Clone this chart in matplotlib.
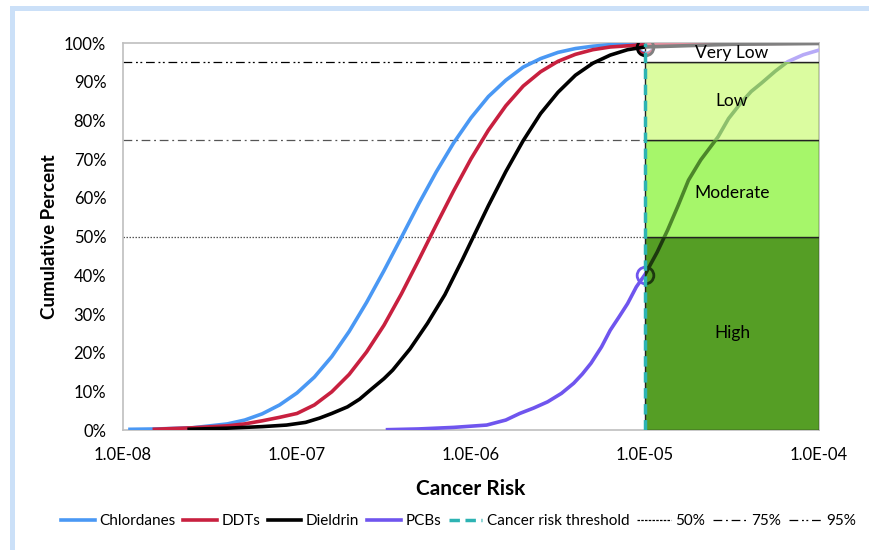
import matplotlib
matplotlib.use("Agg")
import matplotlib.pyplot as plt
import numpy as np
from matplotlib.lines import Line2D
from matplotlib.patches import Rectangle
from matplotlib.ticker import PercentFormatter, FixedLocator, FixedFormatter

plt.rcParams["font.family"] = ["Lato", "DejaVu Sans"]

# cumulative curves, risk given as log10(risk), value as fraction
chlordanes_log = [-7.97, -7.8, -7.6, -7.4, -7.3, -7.2, -7.1, -7.0, -6.9, -6.8, -6.7, -6.6,
                  -6.5, -6.4, -6.3, -6.2, -6.1, -6.0, -5.9, -5.8, -5.7, -5.6, -5.5, -5.4,
                  -5.3, -5.2, -5.0, -4.5, -4.0]
chlordanes_pct = [0.002, 0.003, 0.006, 0.016, 0.026, 0.042, 0.065, 0.096, 0.137, 0.190,
                  0.255, 0.330, 0.412, 0.498, 0.585, 0.667, 0.742, 0.807, 0.862, 0.904,
                  0.938, 0.960, 0.976, 0.986, 0.992, 0.996, 0.999, 1.0, 1.0]

ddts_log = [-7.83, -7.6, -7.4, -7.3, -7.2, -7.1, -7.0, -6.9, -6.8, -6.7, -6.6, -6.5,
            -6.4, -6.3, -6.2, -6.1, -6.0, -5.9, -5.8, -5.7, -5.6, -5.5, -5.4, -5.3,
            -5.2, -5.0, -4.5, -4.0]
ddts_pct = [0.002, 0.006, 0.011, 0.016, 0.024, 0.033, 0.043, 0.065, 0.099, 0.144,
            0.202, 0.271, 0.352, 0.440, 0.530, 0.618, 0.701, 0.775, 0.838, 0.889,
            0.926, 0.953, 0.971, 0.983, 0.990, 0.996, 0.999, 1.0]

dieldrin_log = [-7.63, -7.4, -7.2, -7.06, -6.95, -6.87, -6.8, -6.71, -6.64, -6.58, -6.5,
                -6.45, -6.35, -6.25, -6.15, -6.05, -5.986, -5.9, -5.8, -5.7, -5.6, -5.5,
                -5.4, -5.3, -5.2, -5.1, -5.0, -4.5, -4.0]
dieldrin_pct = [0.002, 0.005, 0.009, 0.013, 0.020, 0.031, 0.043, 0.060, 0.080, 0.103,
                0.133, 0.155, 0.210, 0.276, 0.350, 0.440, 0.500, 0.580, 0.668, 0.748,
                0.818, 0.873, 0.917, 0.948, 0.969, 0.983, 0.990, 0.997, 0.999]

pcbs_log = [-6.49, -6.3, -6.1, -5.91, -5.8, -5.72, -5.64, -5.56, -5.48, -5.41, -5.36,
            -5.31, -5.25, -5.20, -5.15, -5.10, -5.05, -5.0, -4.93, -4.87, -4.81, -4.75,
            -4.68, -4.58, -4.52, -4.45, -4.39, -4.33, -4.25, -4.18, -4.09, -4.0]
pcbs_pct = [0.001, 0.003, 0.007, 0.013, 0.026, 0.043, 0.057, 0.073, 0.095, 0.121, 0.145,
            0.173, 0.215, 0.258, 0.292, 0.327, 0.370, 0.402, 0.460, 0.517, 0.580, 0.646,
            0.698, 0.758, 0.805, 0.845, 0.875, 0.897, 0.928, 0.952, 0.970, 0.982]

series_names = ["Chlordanes", "DDTs", "Dieldrin", "PCBs"]
series_colors = ["#4A98F4", "#C8203F", "#000000", "#6F55EE"]
series_logs = [chlordanes_log, ddts_log, dieldrin_log, pcbs_log]
series_pcts = [chlordanes_pct, ddts_pct, dieldrin_pct, pcbs_pct]

threshold = 1e-5
zone_names = ["High", "Moderate", "Low", "Very Low"]
zone_lo = [0.0, 0.50, 0.75, 0.95]
zone_hi = [0.50, 0.75, 0.95, 1.0]
zone_label_y = [0.25, 0.612, 0.85, 0.974]
zone_colors = ["#559E25", "#A6F66A", "#DBFCA0", "#FFFFFF"]
zone_line_tint = ["#1D380F", "#4C862A", "#8DBF6D", None]

ref_levels = [0.50, 0.75, 0.95]
ref_labels = ["50%", "75%", "95%"]
ref_styles = [(0, (1.2, 1.2)), (0, (7, 3, 1.5, 3)), (0, (7, 3, 1.5, 2, 1.5, 3))]
ref_colors = ["#555555", "#555555", "#000000"]

xticks = [1e-8, 1e-7, 1e-6, 1e-5, 1e-4]
xtick_labels = ["1.0E-08", "1.0E-07", "1.0E-06", "1.0E-05", "1.0E-04"]


def lighten(color, amount):
    c = np.array(matplotlib.colors.to_rgb(color))
    return tuple(c + (1 - c) * amount)


fig = plt.figure(figsize=(8.69, 5.5), dpi=100)
ax = fig.add_axes([0.1415, 0.218, 0.801, 0.7036])

# light blue frame on left/top of the picture
fig.patches.append(Rectangle((10 / 869, 0), 5 / 869, 1 - 6 / 550, transform=fig.transFigure,
                             facecolor="#CBE0F8", edgecolor="none"))
fig.patches.append(Rectangle((10 / 869, 1 - 11 / 550), 1, 5 / 550, transform=fig.transFigure,
                             facecolor="#CBE0F8", edgecolor="none"))

curves = []
for name, color, lg, pc in zip(series_names, series_colors, series_logs, series_pcts):
    x = 10 ** np.array(lg)
    ax.plot(x, pc, color=color, lw=2.6, zorder=3, solid_capstyle="butt")
    at = np.interp(np.log10(threshold), lg, pc)
    ax.plot([threshold], [at], "o", mfc="none", mec=color, ms=12, mew=2, zorder=3)
    curves.append((x, np.array(pc), color, at))

# zones, with the curves seen through them
for name, lo, hi, ly, fc, tint in zip(zone_names, zone_lo, zone_hi, zone_label_y,
                                      zone_colors, zone_line_tint):
    rect = Rectangle((threshold, lo), 1e-4 - threshold, hi - lo, facecolor=fc,
                     edgecolor="#222222", lw=1.0, zorder=4)
    ax.add_patch(rect)
    clip = Rectangle((threshold, lo), 1e-4 - threshold, hi - lo, transform=ax.transData)
    for x, pc, color, at in curves:
        c = tint if tint else lighten(color, 0.5)
        ln, = ax.plot(x, pc, color=c, lw=2.6, zorder=5)
        ln.set_clip_path(clip)
        mk, = ax.plot([threshold], [at], "o", mfc="none", mec=c, ms=12, mew=2, zorder=5)
        mk.set_clip_path(clip)
    ax.text(np.sqrt(threshold * 1e-4), ly, name, ha="center", va="center",
            fontsize=12.5, color="black", zorder=6)

for lvl, st, col in zip(ref_levels, ref_styles, ref_colors):
    ax.plot([1e-8, threshold], [lvl, lvl], color=col, lw=0.9, linestyle=st, zorder=2)

ax.axvline(threshold, color="#2DB3B3", lw=2.5, linestyle=(0, (3, 1.6)), zorder=7)

ax.set_xscale("log")
ax.set_xlim(1e-8, 1e-4)
ax.set_ylim(0, 1)
ax.xaxis.set_major_locator(FixedLocator(xticks))
ax.xaxis.set_major_formatter(FixedFormatter(xtick_labels))
ax.xaxis.set_minor_locator(FixedLocator([]))
ax.set_yticks(np.arange(0, 1.01, 0.1))
ax.yaxis.set_major_formatter(PercentFormatter(1.0, decimals=0))
ax.tick_params(length=0, labelsize=12, pad=12)
ax.tick_params(axis="x", pad=12)
for s in ax.spines.values():
    s.set_color("#BFBFBF")
    s.set_linewidth(1.2)

ax.set_xlabel("Cancer Risk", fontsize=15, fontweight="bold", labelpad=12)
ax.set_ylabel("Cumulative Percent", fontsize=13.5, fontweight="bold", labelpad=4)

handles = [Line2D([], [], color=c, lw=2.6) for c in series_colors]
handles.append(Line2D([], [], color="#2DB3B3", lw=2.5, linestyle=(0, (3, 1.6))))
handles += [Line2D([], [], color="#000000", lw=0.9, linestyle=st) for st in
            [(0, (2, 1)), (0, (7, 3, 1.5, 3)), (0, (7, 3, 1.5, 2, 1.5, 3))]]
labels = series_names + ["Cancer risk threshold"] + ref_labels
fig.legend(handles, labels, loc="center", bbox_to_anchor=(0.528, 0.053), ncol=8,
           frameon=False, fontsize=11, handlelength=2.2, handletextpad=0.3,
           columnspacing=0.5)

fig.savefig("out.png", dpi=100)
